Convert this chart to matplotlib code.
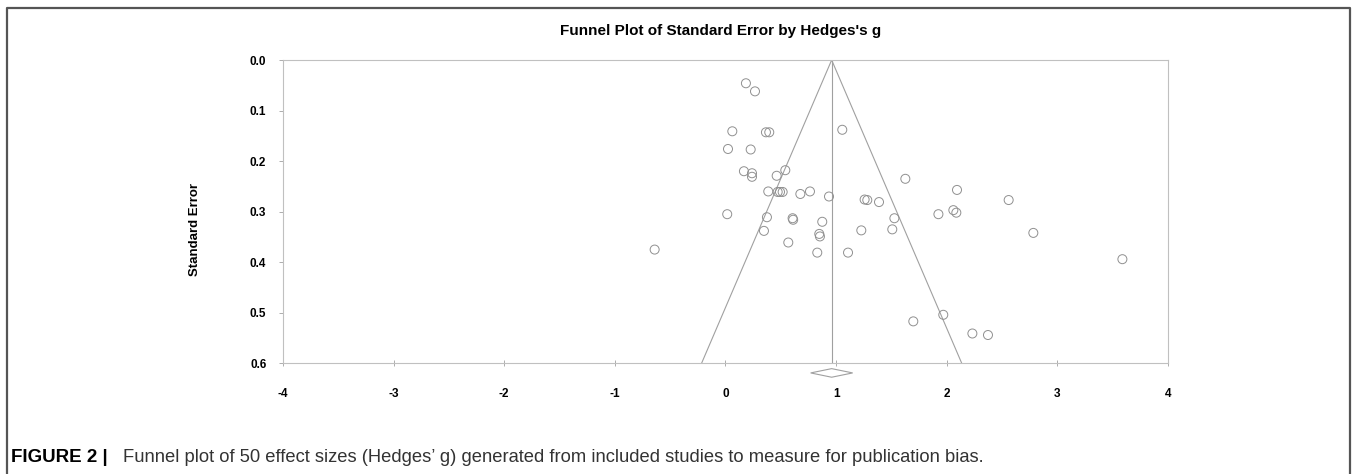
import numpy as np
import matplotlib
matplotlib.use("Agg")
import matplotlib.pyplot as plt
from matplotlib.patches import Polygon
from matplotlib.lines import Line2D

plt.rcParams['font.family'] = ['Liberation Sans', 'DejaVu Sans']

# effect sizes (Hedges's g) and standard errors
hedges_g = [0.185, 0.267, 0.062, 0.366, 0.396, 1.056, 0.023, 0.228, 0.167, 0.240,
            0.240, 0.541, 0.463, 0.387, 0.472, 0.493, 0.517, 0.677, 0.764, 0.936,
            0.016, 0.375, 0.607, 0.612, 0.875, 0.348, 0.848, 0.854, 0.568, -0.640,
            0.830, 1.108, 1.626, 2.093, 1.258, 1.282, 1.388, 2.560, 1.527, 1.925,
            2.060, 2.087, 1.228, 1.508, 2.783, 3.588, 1.698, 1.969, 2.232, 2.373]
std_err = [0.046, 0.062, 0.141, 0.143, 0.143, 0.138, 0.176, 0.177, 0.220, 0.224,
           0.231, 0.218, 0.229, 0.260, 0.261, 0.261, 0.261, 0.265, 0.260, 0.270,
           0.305, 0.311, 0.313, 0.316, 0.320, 0.338, 0.344, 0.349, 0.361, 0.375,
           0.381, 0.381, 0.235, 0.257, 0.276, 0.277, 0.281, 0.277, 0.313, 0.305,
           0.297, 0.302, 0.337, 0.335, 0.342, 0.394, 0.517, 0.504, 0.541, 0.544]

summary_g = 0.96
ci_low, ci_high = 0.77, 1.15
se_max = 0.6

x_ticks = [-4, -3, -2, -1, 0, 1, 2, 3, 4]
y_ticks = [0.0, 0.1, 0.2, 0.3, 0.4, 0.5, 0.6]

fig = plt.figure(figsize=(13.57, 4.74), dpi=100)
ax = fig.add_axes([0.2085, 0.2335, 0.6522, 0.6399])

grey = '#a0a0a0'
# funnel
ax.plot([summary_g - 1.96 * se_max, summary_g, summary_g + 1.96 * se_max],
        [se_max, 0, se_max], color=grey, lw=0.8)
ax.plot([summary_g, summary_g], [0, se_max], color=grey, lw=0.8)

ax.scatter(hedges_g, std_err, s=42, facecolors='none', edgecolors='#909090',
           linewidths=0.7, zorder=3)

# summary diamond under the axis
d = Polygon([(ci_low, 0.619), (summary_g, 0.6105), (ci_high, 0.619), (summary_g, 0.6275)],
            closed=True, fill=False, edgecolor=grey, lw=0.8, clip_on=False)
ax.add_patch(d)

ax.set_xlim(-4, 4)
ax.set_ylim(0.6, 0.0)
ax.set_xticks(x_ticks)
ax.set_xticklabels([str(t) for t in x_ticks], fontsize=8.5, fontweight='bold')
ax.set_yticks(y_ticks)
ax.set_yticklabels(['%.1f' % t for t in y_ticks], fontsize=8.5, fontweight='bold')
ax.tick_params(axis='x', direction='inout', length=5, width=0.6, color=grey, pad=15.5)
ax.tick_params(axis='y', direction='out', length=3, width=0.6, color=grey, pad=9)
for s in ax.spines.values():
    s.set_color('#c0c0c0')
    s.set_linewidth(0.8)

fig.text(0.1437, 0.515, 'Standard Error', rotation=90, fontsize=9.5, fontweight='bold',
         ha='center', va='center')
fig.text(0.531, 0.934, "Funnel Plot of Standard Error by Hedges's g", fontsize=11,
         fontweight='bold', ha='center', va='center')

# caption
fig.text(0.008, 0.034, 'FIGURE 2 |', fontsize=13.5, fontweight='bold', ha='left', va='center')
fig.text(0.0905, 0.034, "Funnel plot of 50 effect sizes (Hedges\u2019 g) generated from included "
         "studies to measure for publication bias.", fontsize=13.2, color='#333333',
         ha='left', va='center')

# frame around figure (left, top, right)
fig.add_artist(Line2D([0.0055, 0.0055, 0.9945, 0.9945], [0.0, 0.983, 0.983, 0.0],
                      transform=fig.transFigure, color='#555555', lw=1.6))

fig.savefig('out.png', dpi=100)
